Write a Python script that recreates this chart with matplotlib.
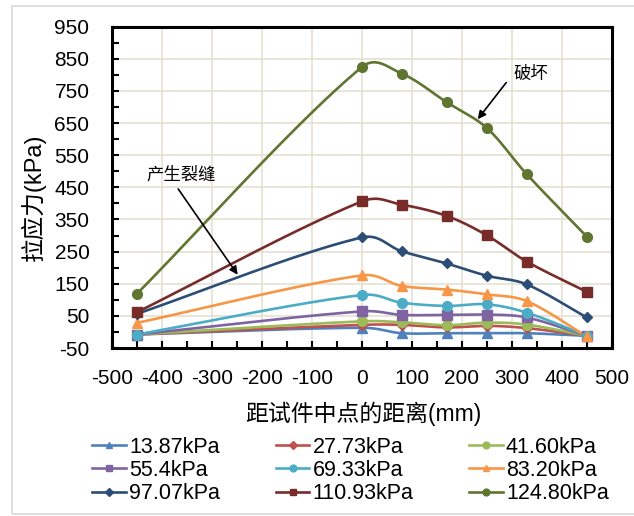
import numpy as np
import matplotlib
matplotlib.use("Agg")
import matplotlib.pyplot as plt
from matplotlib.lines import Line2D
from matplotlib.patches import Rectangle

plt.rcParams['font.family'] = ['Liberation Sans', 'Noto Sans CJK SC', 'DejaVu Sans']
plt.rcParams['axes.unicode_minus'] = False

# distance from specimen centre (mm)
distance = [-450, 0, 80, 170, 250, 330, 450]

# tensile stress (kPa) for each applied load
s13_87 = [-8, 13, -4, -4, -4, -4, -12]
s27_73 = [-8, 22, 22, 14, 19, 12, -12]
s41_60 = [-8, 33, 30, 21, 29, 23, -12]
s55_4 = [-8, 64, 53, 53, 54, 45, -12]
s69_33 = [-8, 115, 91, 81, 86, 60, -12]
s83_20 = [28, 176, 143, 132, 117, 96, -14]
s97_07 = [56, 294, 251, 213, 175, 148, 45]
s110_93 = [61, 406, 396, 361, 301, 219, 125]
s124_80 = [118, 824, 804, 715, 635, 491, 297]

labels = ["13.87kPa", "27.73kPa", "41.60kPa", "55.4kPa", "69.33kPa",
          "83.20kPa", "97.07kPa", "110.93kPa", "124.80kPa"]
series = [s13_87, s27_73, s41_60, s55_4, s69_33, s83_20, s97_07, s110_93, s124_80]
colors = ["#4F81BD", "#C0504D", "#9BBB59", "#8064A2", "#4BACC6",
          "#F79646", "#2C4D75", "#772C2A", "#5F7530"]
markers = ["^", "D", "o", "s", "o", "^", "D", "s", "o"]
msizes = [6.5, 5.5, 7, 6.5, 7, 6.5, 5.5, 6.5, 7]

xticks = [-500, -400, -300, -200, -100, 0, 100, 200, 300, 400, 500]
yticks = [-50, 50, 150, 250, 350, 450, 550, 650, 750, 850, 950]

W, H = 634, 516
fig = plt.figure(figsize=(W / 100, H / 100), dpi=100)
fig.patch.set_facecolor("white")

# light outer chart-area border
fig.patches.append(Rectangle((11.7 / W, 2 / H), 1.2, (H - 8) / H, transform=fig.transFigure,
                             fill=False, edgecolor="#D9D9D9", lw=1.2))

ax = fig.add_axes([111.7 / W, 1 - 348 / H, 500 / W, 321.3 / H])
ax.set_xlim(-500, 500)
ax.set_ylim(-50, 950)


def smooth_curve(xs, ys, power=0.75, n=40):
    """Bezier smoothing of a polyline in display space."""
    P = ax.transData.transform(np.column_stack([xs, ys]))
    m = len(P)
    pts = [P[:1]]
    t = np.linspace(0, 1, n)[1:, None]
    for i in range(m - 1):
        p0 = P[i - 1] if i > 0 else P[i]
        p1, p2 = P[i], P[i + 1]
        p3 = P[i + 2] if i + 2 < m else P[i + 1]
        d01 = np.hypot(*(p1 - p0))
        d12 = np.hypot(*(p2 - p1))
        d23 = np.hypot(*(p3 - p2))
        f1 = (2 * d12 / (d01 + d12)) ** power
        f2 = (2 * d12 / (d12 + d23)) ** power
        c1 = p1 + (p2 - p0) / 6 * f1
        c2 = p2 - (p3 - p1) / 6 * f2
        seg = ((1 - t) ** 3) * p1 + 3 * ((1 - t) ** 2) * t * c1 + 3 * (1 - t) * t ** 2 * c2 + t ** 3 * p2
        pts.append(seg)
    D = np.vstack(pts)
    return ax.transData.inverted().transform(D).T


handles = []
for ys, c, mk, ms, lab in zip(series, colors, markers, msizes, labels):
    sx, sy = smooth_curve(distance, ys)
    ax.plot(sx, sy, color=c, lw=1.9, solid_capstyle="round", zorder=3)
    ax.plot(distance, ys, ls="none", marker=mk, ms=ms, color=c, mec=c, zorder=4)
    handles.append(Line2D([], [], color=c, lw=1.9, marker=mk, ms=ms, mec=c))

# grid, ticks and frame
ax.set_xticks(xticks)
ax.set_yticks(yticks)
ax.set_xticks(np.arange(-450, 500, 100), minor=True)
ax.set_yticks(np.arange(0, 950, 100), minor=True)
ax.grid(True, which="major", color="#E5E2D2", lw=1.2, zorder=0)
ax.tick_params(which="both", direction="in", length=5, width=1.5, color="black",
               top=False, right=False)
ax.tick_params(axis="x", which="major", labelsize=15, pad=15)
ax.tick_params(axis="y", which="major", labelsize=15, pad=16)
for sp in ax.spines.values():
    sp.set_linewidth(2.2)
    sp.set_color("black")
    sp.set_zorder(5)

ax.set_xlabel("距试件中点的距离(mm)", fontsize=16.5)
ax.xaxis.set_label_coords((363 - 111.7) / 500, -(414 - 348) / 321.3)
ax.xaxis.label.set_va("center")
ax.set_ylabel("拉应力(kPa)", fontsize=17)
ax.yaxis.set_label_coords(-(111.7 - 33) / 500, (348 - 197) / 321.3)
ax.yaxis.label.set_va("center")

# annotations
arrow = dict(arrowstyle="-|>", color="black", lw=1.2, mutation_scale=12, shrinkA=0, shrinkB=0)
ax.text(338, 802, "破坏", fontsize=12.5, ha="center", va="center", zorder=6)
ax.annotate("", xy=(232, 662), xytext=(289, 776), arrowprops=arrow, zorder=6)
ax.text(-362, 489, "产生裂缝", fontsize=12.5, ha="center", va="center", zorder=6)
ax.annotate("", xy=(-248, 178), xytext=(-367, 445), arrowprops=arrow, zorder=6)

# legend laid out row by row in three columns
order = [0, 3, 6, 1, 4, 7, 2, 5, 8]
fig.legend([handles[i] for i in order], [labels[i] for i in order], ncol=3,
           loc="center", bbox_to_anchor=(350.6 / W, 1 - 470.5 / H), frameon=False,
           fontsize=15.5, handlelength=1.55, handletextpad=0.15, columnspacing=2.6,
           labelspacing=0.1, markerscale=0.7, borderpad=0.2)

fig.savefig("out.png", dpi=100, facecolor="white")
